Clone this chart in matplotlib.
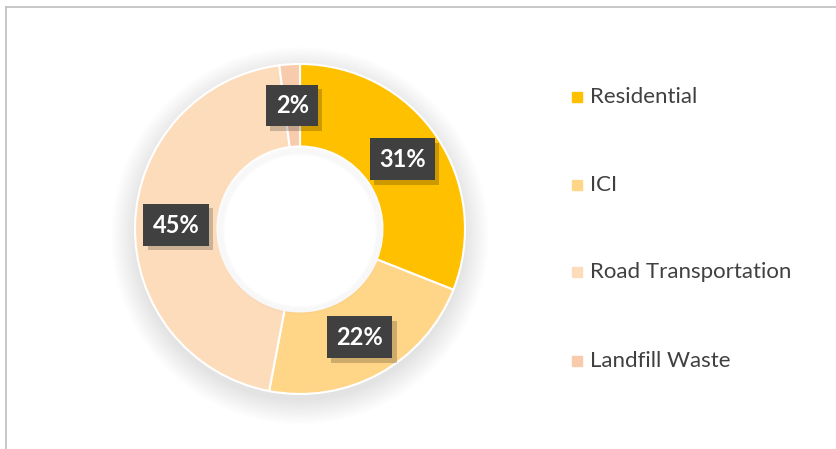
import matplotlib.pyplot as plt
import matplotlib.patheffects as pe
from matplotlib.patches import Circle, Rectangle
from matplotlib.lines import Line2D
import numpy as np

plt.rcParams['font.family'] = ['Lato', 'DejaVu Sans']

# data
categories = ["Residential", "ICI", "Road Transportation", "Landfill Waste"]
shares = [31, 22, 45, 2]
colors = ["#FFC000", "#FFD687", "#FDDCBB", "#F8CBAD"]

fig = plt.figure(figsize=(8.37, 4.49), dpi=100)

# outer border (top and left lines only)
fig.add_artist(Line2D([6/837, 836/837], [1 - 7/449, 1 - 7/449], color="#BFBFBF", lw=1.2))
fig.add_artist(Line2D([6/837, 6/837], [1 - 7/449, 0], color="#BFBFBF", lw=1.2))

# donut axes (extra room around the ring for the shadow)
cx, cy, r = 300, 229, 165
m = 1.3
ax = fig.add_axes([(cx - m * r) / 837, (449 - cy - m * r) / 449, 2 * m * r / 837, 2 * m * r / 449])

# soft shadow under the ring
for i in range(14):
    ax.add_patch(Circle((0, -0.04), 1.0 + 0.011 * i, color="black",
                        alpha=0.008, zorder=0, lw=0))

wedges, _ = ax.pie(shares, colors=colors, startangle=90, counterclock=False,
                   radius=1.0, wedgeprops=dict(width=0.5, edgecolor="white", linewidth=1.5))
for w in wedges:
    w.set_zorder(2)

# white hole with a faint inner shadow
ax.add_patch(Circle((0, 0), 0.5, color="white", zorder=3, lw=0))
for i in range(6):
    ax.add_patch(Circle((0, -0.01), 0.5 - 0.007 * i, fill=False, ec="black",
                        alpha=0.01, lw=2, zorder=3))

# data labels
for s, w in zip(shares, wedges):
    mid = np.deg2rad((w.theta1 + w.theta2) / 2)
    x, y = 0.75 * np.cos(mid), 0.75 * np.sin(mid)
    t = ax.text(x, y, f"{s}%", ha="center", va="center", color="white",
                fontsize=17, fontweight="bold", zorder=5,
                bbox=dict(boxstyle="square,pad=0.4", fc="#404040", ec="none"))
    t.get_bbox_patch().set_path_effects(
        [pe.SimplePatchShadow(offset=(3, -3), shadow_rgbFace="black", alpha=0.2), pe.Normal()])

ax.set_xlim(-m, m)
ax.set_ylim(-m, m)
ax.set_aspect("equal")
ax.axis("off")

# legend
leg_y = [97, 185, 272, 361]
for lab, col, yy in zip(categories, colors, leg_y):
    fig.add_artist(Rectangle((572/837, 1 - (yy + 5)/449), 10/837, 10/449,
                             transform=fig.transFigure, color=col))
    fig.text(590/837, 1 - yy/449, lab, fontsize=16, color="#404040",
             ha="left", va="center")

fig.savefig("out.png", dpi=100, facecolor="white")
